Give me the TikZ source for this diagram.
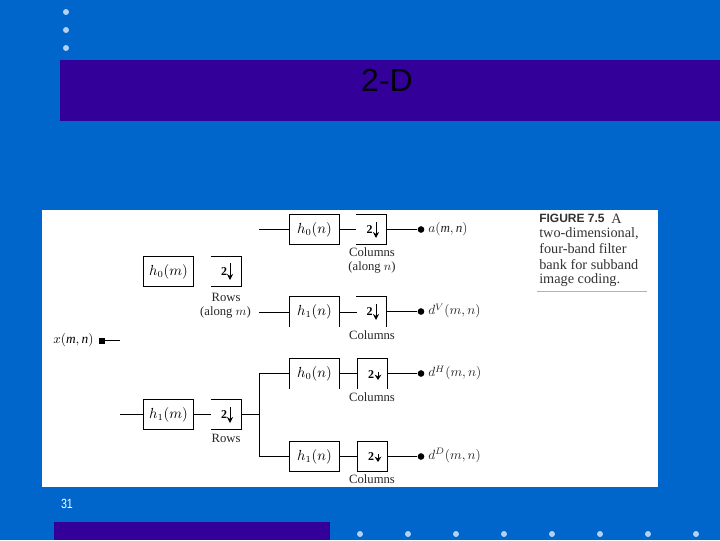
\documentclass[tikz,border=0pt]{standalone}
\usepackage{fontspec}
\setmainfont{Liberation Serif}
\newfontfamily\capsans{Liberation Sans}
\usetikzlibrary{arrows.meta}
\definecolor{bgblue}{HTML}{0066CC}
\definecolor{bardark}{HTML}{330099}
\definecolor{dotlight}{HTML}{B3D1F0}
\tikzset{
  x=0.75pt,y=-0.75pt,
  wire/.style={line width=0.75pt,black},
  filterbox/.style={minimum width=37.6pt,minimum height=22.4pt,inner sep=0pt,font=\fontsize{10.5}{12}\selectfont},
  downbox/.style={minimum width=22.4pt,minimum height=22.4pt,inner sep=0pt},
  closed/.style={draw,line width=0.75pt},
  lab/.style={inner sep=0pt,font=\fontsize{9.5}{10}\selectfont,text=black!85},
  outlab/.style={inner sep=0pt,anchor=west,font=\fontsize{9.8}{11}\selectfont,text=black!85},
  termdot/.style={circle,fill=black,inner sep=0pt,minimum size=5pt},
  deco/.style={circle,fill=dotlight,inner sep=0pt,minimum size=4.5pt},
  capline/.style={inner sep=0pt,anchor=west,font=\fontsize{10.7}{12}\selectfont,text=black!80},
  numtwo/.style={inner sep=0pt,font=\bfseries\fontsize{9}{10}\selectfont},
  longdown/.style={line width=0.75pt,-{Stealth[length=4.5pt,width=4.5pt]}},
  shortdown/.style={line width=0.75pt,-{Stealth[length=4pt,width=5pt]}}
}
\begin{document}
\begin{tikzpicture}
\useasboundingbox (0,0) rectangle (720,540);
\fill[bgblue] (0,0) rectangle (720,540);
\fill[bardark] (60,60) rectangle (720,121);
\fill[bardark] (54,522) rectangle (330,540);
\fill[white] (42,210) rectangle (658,487);
\foreach \n/\y in {a/12,b/30,c/48} \node[deco] (top\n) at (66,\y) {};
\foreach \n/\x in {a/360,b/408,c/456,d/504,e/552,f/600,g/648,h/696} \node[deco] (bot\n) at (\x,534) {};
\node[inner sep=0pt,font=\capsans\fontsize{24}{26}\selectfont,text=black!90!bardark] (title) at (387,80) {2-D};
\node[inner sep=0pt,font=\capsans\fontsize{10}{12}\selectfont,text=white,xscale=0.8] (pagenum) at (67,504) {31};

% filter boxes
\node[filterbox,closed] (hA) at (314.5,229.5) {$h_0(n)$};
\node[filterbox] (hB) at (314.5,311.5) {$h_1(n)$};
\node[filterbox] (hC) at (314.5,373.5) {$h_0(n)$};
\node[filterbox,closed] (hD) at (314.5,456.5) {$h_1(n)$};
\node[filterbox,closed] (hM0) at (168.5,271.5) {$h_0(m)$};
\node[filterbox,closed] (hM1) at (168.5,414.5) {$h_1(m)$};

% downsampler boxes
\node[downbox] (dA) at (371.5,229.5) {};
\node[downbox] (dB) at (371.5,311.5) {};
\node[downbox] (dC) at (372.3,373.5) {};
\node[downbox,closed] (dD) at (372.3,456.5) {};
\node[downbox] (rA) at (226,271.5) {};
\node[downbox] (rB) at (226,414.5) {};

% open box outlines
\draw[wire] (hB.south west) -- (hB.north west) -- (hB.north east) -- (hB.south east);
\draw[wire] (hC.south west) -- (hC.north west) -- (hC.north east) -- (hC.south east);
\draw[wire] (dA.north west) -- (dA.north east) -- (dA.south east) -- (dA.south west);
\draw[wire] (dB.north west) -- (dB.north east) -- (dB.south east);
\draw[wire] (dC.south west) -- (dC.north west) -- (dC.north east) -- (dC.south east);
\draw[wire] (rA.north west) -- (rA.north east) -- (rA.south east) -- (rA.south west);
\draw[wire] (rB.north west) -- (rB.north east) -- (rB.south east) -- (rB.south west);

% symbols inside downsamplers
\node[numtwo] (tA) at (369.5,230) {2};
\coordinate (aA1) at (376,222); \coordinate (aA2) at (376,238);
\draw[longdown] (aA1) -- (aA2);
\node[numtwo] (tB) at (369.5,312) {2};
\coordinate (aB1) at (376,304); \coordinate (aB2) at (376,320);
\draw[longdown] (aB1) -- (aB2);
\node[numtwo] (tC) at (371,375) {2};
\coordinate (aC1) at (378,372); \coordinate (aC2) at (378,380);
\draw[shortdown] (aC1) -- (aC2);
\node[numtwo] (tD) at (371,457) {2};
\coordinate (aD1) at (378,454); \coordinate (aD2) at (378,462);
\draw[shortdown] (aD1) -- (aD2);
\node[numtwo] (tE) at (224,272) {2};
\coordinate (aE1) at (230,263); \coordinate (aE2) at (230,280);
\draw[longdown] (aE1) -- (aE2);
\node[numtwo] (tF) at (224,415) {2};
\coordinate (aF1) at (230,407); \coordinate (aF2) at (230,423);
\draw[longdown] (aF1) -- (aF2);

% output dots and labels
\node[termdot] (oA) at (421,229.5) {};
\node[termdot] (oB) at (421,311.5) {};
\node[termdot] (oC) at (421,373.5) {};
\node[termdot] (oD) at (421,456.5) {};
\node[outlab] (lA) at (428,229.5) {$a(\mathbf{\mathit{m}},\mathbf{\mathit{n}})$};
\node[outlab] (lB) at (428,311) {$d^{V}(m,n)$};
\node[outlab] (lC) at (428,373) {$d^{H}(m,n)$};
\node[outlab] (lD) at (428,455.5) {$d^{D}(m,n)$};

% input
\node[inner sep=0pt,anchor=west,font=\fontsize{10}{11}\selectfont] (xin) at (53,340) {$x(\mathbf{\mathit{m}},\mathbf{\mathit{n}})$};
\node[fill=black,inner sep=0pt,minimum size=4.5pt] (xsq) at (102,340.5) {};
\coordinate (xend) at (120,340.5);
\coordinate (xlow) at (120,414.5);

% free wire ends
\coordinate (wA) at (259,229.5);
\coordinate (wB) at (259,312.5);
\coordinate (sB) at (289,312.5);
\coordinate (eB) at (357,312.5);
\coordinate (fB) at (339.7,312.5);
\coordinate (wC) at (259,373.5);
\coordinate (wD) at (259,456.5);
\coordinate (wJ) at (259,414.5);
\coordinate (sC) at (289,373.5);
\coordinate (fC) at (339.7,373.5);
\coordinate (gC) at (357,373.5);
\coordinate (hCo) at (387.2,373.5);

% connectors
\draw[wire] (wA) -- (hA.west);
\draw[wire] (hA.east) -- (dA.west);
\draw[wire] (dA.east) -- (oA);
\draw[wire] (wB) -- (sB);
\draw[wire] (fB) -- (eB);
\draw[wire] (dB.east) -- (oB);
\draw[wire] (xsq) -- (xend);
\draw[wire] (xlow) -- (hM1.west);
\draw[wire] (hM1.east) -- (rB.west);
\draw[wire] (rB.east) -- (wJ);
\draw[wire] (wC) -- (wD);
\draw[wire] (wC) -- (sC);
\draw[wire] (wD) -- (hD.west);
\draw[wire] (fC) -- (gC);
\draw[wire] (hCo) -- (oC);
\draw[wire] (hD.east) -- (dD.west);
\draw[wire] (dD.east) -- (oD);

% labels below boxes
\node[lab] (c1) at (372,252) {Columns};
\node[lab] (c1b) at (372,267) {(along $n$)};
\node[lab] (c2) at (372,335) {Columns};
\node[lab] (c3) at (372,397) {Columns};
\node[lab] (c4) at (372,479.5) {Columns};
\node[lab] (r1) at (226,297) {Rows};
\node[lab] (r1b) at (225.5,312) {(along $m$)};
\node[lab] (r2) at (226,438) {Rows};

% caption
\node[capline,font=\capsans\bfseries\fontsize{9}{11}\selectfont] (cap1) at (539,218.5) {FIGURE 7.5};
\node[capline] (cap1b) at (611,218.5) {A};
\node[capline] (cap2) at (539,234) {two-dimensional,};
\node[capline] (cap3) at (539,249) {four-band filter};
\node[capline] (cap4) at (539,264.5) {bank for subband};
\node[capline] (cap5) at (539,280) {image coding.};
\coordinate (ruleA) at (537,291.5); \coordinate (ruleB) at (647,291.5);
\draw[black!30,line width=0.6pt] (ruleA) -- (ruleB);
\end{tikzpicture}
\end{document}
